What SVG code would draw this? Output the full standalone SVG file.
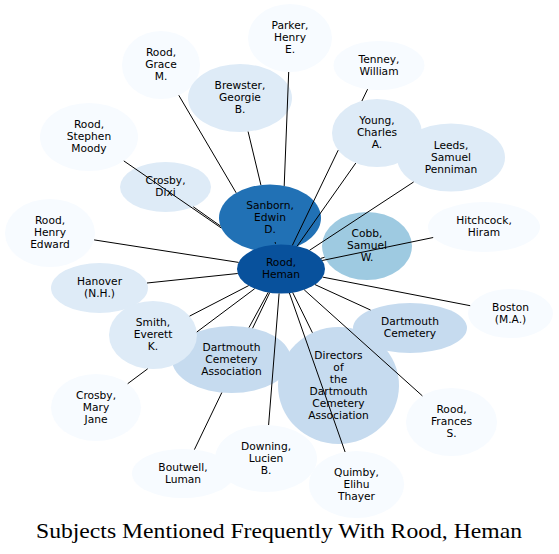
<svg xmlns="http://www.w3.org/2000/svg" width="559" height="554" viewBox="0 0 559 554">
<style>
.n text{font-family:"DejaVu Sans",sans-serif;font-size:10.67px;text-anchor:middle;fill:#000}
.c0{fill:#f7fbff}.c1{fill:#deebf7}.c2{fill:#c6dbef}.c3{fill:#9ecae1}.c5{fill:#2171b5}.c6{fill:#08519c}
#edges line{stroke:#000;stroke-width:1}
.title{font-family:"Liberation Serif",serif;font-size:22px;text-anchor:middle;fill:#000}
</style>
<rect width="559" height="554" fill="#fff"/>
<g id="nodes">
<g id="parker" class="n"><ellipse class="c0" cx="290" cy="38" rx="42" ry="34"/><text x="290" y="29">Parker,<tspan x="290" dy="12">Henry</tspan><tspan x="290" dy="12">E.</tspan></text></g>
<g id="grace" class="n"><ellipse class="c0" cx="161" cy="65" rx="39" ry="34"/><text x="161" y="56">Rood,<tspan x="161" dy="12">Grace</tspan><tspan x="161" dy="12">M.</tspan></text></g>
<g id="tenney" class="n"><ellipse class="c0" cx="379" cy="65.5" rx="45.5" ry="24.5"/><text x="379" y="62.5">Tenney,<tspan x="379" dy="12">William</tspan></text></g>
<g id="brewster" class="n"><ellipse class="c1" cx="240" cy="98" rx="52" ry="34"/><text x="240" y="89">Brewster,<tspan x="240" dy="12">Georgie</tspan><tspan x="240" dy="12">B.</tspan></text></g>
<g id="moody" class="n"><ellipse class="c0" cx="89" cy="137" rx="49" ry="34"/><text x="89" y="128">Rood,<tspan x="89" dy="12">Stephen</tspan><tspan x="89" dy="12">Moody</tspan></text></g>
<g id="young" class="n"><ellipse class="c1" cx="377" cy="133" rx="45" ry="34"/><text x="377" y="124">Young,<tspan x="377" dy="12">Charles</tspan><tspan x="377" dy="12">A.</tspan></text></g>
<g id="leeds" class="n"><ellipse class="c1" cx="451" cy="157.5" rx="54" ry="34"/><text x="451" y="148.5">Leeds,<tspan x="451" dy="12">Samuel</tspan><tspan x="451" dy="12">Penniman</tspan></text></g>
<g id="crosbydixi" class="n"><ellipse class="c1" cx="165.5" cy="187" rx="45.5" ry="25"/><text x="165.5" y="184">Crosby,<tspan x="165.5" dy="12">Dixi</tspan></text></g>
<g id="sanborn" class="n"><ellipse class="c5" cx="270" cy="218" rx="51" ry="33.5"/><text x="270" y="209">Sanborn,<tspan x="270" dy="12">Edwin</tspan><tspan x="270" dy="12">D.</tspan></text></g>
<g id="henryedward" class="n"><ellipse class="c0" cx="50" cy="233" rx="45" ry="34"/><text x="50" y="224">Rood,<tspan x="50" dy="12">Henry</tspan><tspan x="50" dy="12">Edward</tspan></text></g>
<g id="hitchcock" class="n"><ellipse class="c0" cx="484" cy="227" rx="56" ry="25"/><text x="484" y="224">Hitchcock,<tspan x="484" dy="12">Hiram</tspan></text></g>
<g id="cobb" class="n"><ellipse class="c3" cx="367" cy="246" rx="45" ry="34"/><text x="367" y="237">Cobb,<tspan x="367" dy="12">Samuel</tspan><tspan x="367" dy="12">W.</tspan></text></g>
<g id="heman" class="n"><ellipse class="c6" cx="281" cy="269" rx="44" ry="24.5"/><text x="281" y="266">Rood,<tspan x="281" dy="12">Heman</tspan></text></g>
<g id="hanover" class="n"><ellipse class="c1" cx="99.5" cy="288" rx="48.5" ry="25"/><text x="99.5" y="285">Hanover<tspan x="99.5" dy="12">(N.H.)</tspan></text></g>
<g id="boston" class="n"><ellipse class="c0" cx="510.5" cy="313.5" rx="42.5" ry="24.5"/><text x="510.5" y="310.5">Boston<tspan x="510.5" dy="12">(M.A.)</tspan></text></g>
<g id="dca" class="n"><ellipse class="c2" cx="231.5" cy="359.5" rx="59.5" ry="33.5"/><text x="231.5" y="350.5">Dartmouth<tspan x="231.5" dy="12">Cemetery</tspan><tspan x="231.5" dy="12">Association</tspan></text></g>
<g id="smith" class="n"><ellipse class="c1" cx="153" cy="335" rx="44" ry="34"/><text x="153" y="326">Smith,<tspan x="153" dy="12">Everett</tspan><tspan x="153" dy="12">K.</tspan></text></g>
<g id="dc" class="n"><ellipse class="c2" cx="410" cy="328" rx="57" ry="25"/><text x="410" y="325">Dartmouth<tspan x="410" dy="12">Cemetery</tspan></text></g>
<g id="directors" class="n"><ellipse class="c2" cx="338.5" cy="385.5" rx="60.5" ry="58.5"/><text x="338.5" y="358.5">Directors<tspan x="338.5" dy="12">of</tspan><tspan x="338.5" dy="12">the</tspan><tspan x="338.5" dy="12">Dartmouth</tspan><tspan x="338.5" dy="12">Cemetery</tspan><tspan x="338.5" dy="12">Association</tspan></text></g>
<g id="crosbymj" class="n"><ellipse class="c0" cx="96" cy="407.5" rx="45" ry="33.5"/><text x="96" y="398.5">Crosby,<tspan x="96" dy="12">Mary</tspan><tspan x="96" dy="12">Jane</tspan></text></g>
<g id="frances" class="n"><ellipse class="c0" cx="451.5" cy="422" rx="45.5" ry="34"/><text x="451.5" y="413">Rood,<tspan x="451.5" dy="12">Frances</tspan><tspan x="451.5" dy="12">S.</tspan></text></g>
<g id="boutwell" class="n"><ellipse class="c0" cx="183" cy="473.5" rx="51" ry="24.5"/><text x="183" y="470.5">Boutwell,<tspan x="183" dy="12">Luman</tspan></text></g>
<g id="downing" class="n"><ellipse class="c0" cx="266" cy="458.5" rx="51" ry="33.5"/><text x="266" y="449.5">Downing,<tspan x="266" dy="12">Lucien</tspan><tspan x="266" dy="12">B.</tspan></text></g>
<g id="quimby" class="n"><ellipse class="c0" cx="356.5" cy="484.5" rx="47.5" ry="33.5"/><text x="356.5" y="475.5">Quimby,<tspan x="356.5" dy="12">Elihu</tspan><tspan x="356.5" dy="12">Thayer</tspan></text></g>
</g>
<g id="edges">
<line x1="288.7" y1="72" x2="284.2" y2="186"/>
<line x1="178.8" y1="95.3" x2="236.2" y2="192.9"/>
<line x1="367.6" y1="89.2" x2="361.9" y2="101"/>
<line x1="338.2" y1="150.2" x2="292.4" y2="245.3"/>
<line x1="248.1" y1="131.6" x2="260.9" y2="185"/>
<line x1="123.8" y1="160.9" x2="221.3" y2="228"/>
<line x1="355.8" y1="163" x2="297.1" y2="246.2"/>
<line x1="413.6" y1="182" x2="309.5" y2="250.3"/>
<line x1="193.3" y1="206.8" x2="220.5" y2="226"/>
<line x1="275.1" y1="242" x2="275.5" y2="243.8"/>
<line x1="94.1" y1="239.9" x2="238.6" y2="262.4"/>
<line x1="433.2" y1="237.5" x2="322.2" y2="260.5"/>
<line x1="324.6" y1="257.3" x2="320.7" y2="258.4"/>
<line x1="147" y1="283" x2="237.7" y2="273.5"/>
<line x1="470.2" y1="305.7" x2="322.6" y2="277.1"/>
<line x1="189.6" y1="316.1" x2="248.7" y2="285.6"/>
<line x1="370.5" y1="310" x2="315" y2="284.6"/>
<line x1="249" y1="327.5" x2="268.2" y2="292.4"/>
<line x1="312.4" y1="332.7" x2="292.7" y2="292.6"/>
<line x1="127.7" y1="383.7" x2="147.7" y2="368.8"/>
<line x1="196.8" y1="332" x2="254.7" y2="288.7"/>
<line x1="422.4" y1="395.9" x2="304.2" y2="289.8"/>
<line x1="268.6" y1="425" x2="279.1" y2="293.5"/>
<line x1="194.4" y1="449.6" x2="221.8" y2="392.6"/>
<line x1="252.6" y1="328.2" x2="269.7" y2="292.7"/>
<line x1="345.1" y1="452" x2="289.4" y2="293"/>
</g>
<text class="title" x="279" y="538" textLength="486" lengthAdjust="spacingAndGlyphs">Subjects Mentioned Frequently With Rood, Heman</text>
</svg>
